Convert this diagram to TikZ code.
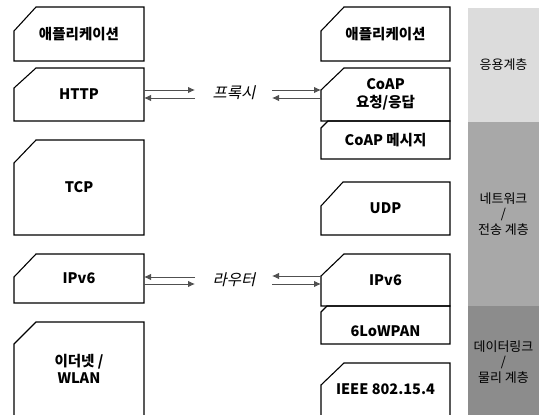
\documentclass[tikz,border=0pt]{standalone}
\usepackage{fontspec}
\setmainfont{Noto Sans CJK KR}
\newfontfamily\krslant{Noto Sans CJK KR}[FakeSlant=0.22]
\usetikzlibrary{arrows.meta}
\definecolor{bandA}{HTML}{DCDCDC}
\definecolor{bandB}{HTML}{A8A8A8}
\definecolor{bandC}{HTML}{8C8C8C}
\definecolor{arrgray}{HTML}{505050}
\tikzset{
  boxnode/.style={draw=none, inner sep=0pt, outer sep=0pt, align=center,
    font=\fontsize{14.5}{17.5}\selectfont\bfseries},
  boxline/.style={draw=black, line width=1.1pt, line join=miter},
  band/.style={inner sep=0pt, outer sep=0pt, align=center,
    font=\fontsize{13}{15.5}\selectfont, text=black},
  arr/.style={draw=arrgray, line width=0.9pt, -{Latex[length=7pt,width=6.5pt]}},
  midlabel/.style={font=\fontsize{15.5}{17}\selectfont\krslant, inner sep=0pt}
}
% name, x1, y1, x2, y2, cut-x, cut-y, text
\newcommand\cutbox[8]{%
  \node[boxnode, minimum width={#4-#2}, minimum height={#5-#3}]
    (#1) at ({(#2+#4)/2},{(#3+#5)/2}) {#8};
  \draw[boxline] ([yshift=-#7]#1.north west) -- ([xshift=#6]#1.north west)
    -- (#1.north east) -- (#1.south east) -- (#1.south west) -- cycle;}
\begin{document}
\begin{tikzpicture}[x=1pt,y=-1pt]
\clip (0,0) rectangle (539,415);
\fill[white] (0,0) rectangle (539,415);
% layer bands
\node[band, fill=bandA, minimum width=71, minimum height=114] (bapp) at (503.5,65) {응용계층};
\node[band, fill=bandB, minimum width=71, minimum height=184] (bnet) at (503.5,214) {네트워크\\/\\전송 계층};
\node[band, fill=bandC, minimum width=71, minimum height=112] (blink) at (503.5,362) {데이터링크\\/\\물리 계층};
% left stack
\cutbox{la}{14}{7}{144}{61}{22}{24}{애플리케이션}
\cutbox{lh}{14}{68}{144}{121}{22}{20}{HTTP}
\cutbox{lt}{14}{140}{144}{235}{22}{23}{TCP}
\cutbox{li}{14}{254}{144}{303}{22}{23}{IPv6}
\cutbox{le}{14}{322}{144}{416}{22}{22}{이더넷 /\\WLAN}
% right stack
\cutbox{ra}{321}{7}{450}{61}{23}{24}{애플리케이션}
\cutbox{rc}{321}{68}{450}{121}{23}{22}{CoAP\\요청/응답}
\cutbox{rm}{321}{121}{450}{159}{7}{7}{CoAP 메시지}
\cutbox{ru}{321}{182}{450}{235}{22}{24}{UDP}
\cutbox{ri}{321}{254}{450}{306}{23}{22}{IPv6}
\cutbox{rl}{321}{306}{450}{344}{6}{6}{}
\node[boxnode] (rltext) at ([yshift=-6pt]rl.center) {6LoWPAN};
\cutbox{rie}{321}{363}{450}{416}{23}{22}{IEEE 802.15.4}
% middle labels
\node[midlabel] (proxy) at (234,93) {프록시};
\node[midlabel] (router) at (234,280) {라우터};
% arrow end points
\coordinate (pl1) at (195,90);
\coordinate (pl2) at (195,98);
\coordinate (pr1) at (272,90);
\coordinate (pr2) at (272,98);
\coordinate (rl1) at (195,277);
\coordinate (rl2) at (195,284);
\coordinate (rr1) at (272,276);
\coordinate (rr2) at (272,284);
% proxy arrows
\draw[arr] (lh.east |- pl1) -- (pl1);
\draw[arr] (pl2) -- (lh.east |- pl2);
\draw[arr] (pr1) -- (rc.west |- pr1);
\draw[arr] (rc.west |- pr2) -- (pr2);
% router arrows
\draw[arr] (rl1) -- (li.east |- rl1);
\draw[arr] (li.east |- rl2) -- (rl2);
\draw[arr] (ri.west |- rr1) -- (rr1);
\draw[arr] (rr2) -- (ri.west |- rr2);
\end{tikzpicture}
\end{document}
